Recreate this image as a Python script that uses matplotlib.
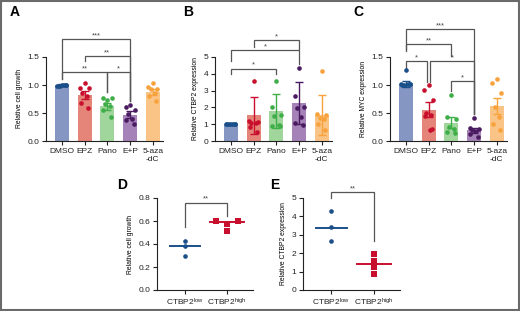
import matplotlib
matplotlib.use("Agg")
import matplotlib.pyplot as plt
from matplotlib.patches import Rectangle

plt.rcParams['font.family'] = ['Liberation Sans', 'DejaVu Sans']
plt.rcParams['mathtext.default'] = 'regular'

# ---- data ----
groups = ['DMSO', 'EPZ', 'Pano', 'E+P', '5-aza\n-dC']

# A - relative cell growth (mean +/- SEM)
growth_mean = [1.0, 0.82, 0.62, 0.47, 0.87]
growth_err = [0.01, 0.07, 0.06, 0.06, 0.05]
growth_pts = [
    [1.0, 0.99, 1.0, 0.98, 1.0, 0.99, 1.0],
    [1.04, 0.95, 0.95, 0.85, 0.80, 0.68, 0.59],
    [0.74, 0.77, 0.76, 0.66, 0.62, 0.55, 0.42],
    [0.64, 0.61, 0.55, 0.48, 0.40, 0.38, 0.30],
    [1.04, 0.97, 0.93, 0.92, 0.85, 0.80, 0.72],
]

# B - relative CTBP2 expression (mean +/- SD)
ctbp2_mean = [1.0, 1.52, 1.8, 2.25, 1.55]
ctbp2_err = [0.03, 1.1, 1.0, 1.25, 1.2]
ctbp2_pts = [
    [1.0, 1.0, 1.0, 1.0, 1.0, 1.0, 1.0],
    [3.57, 1.2, 1.15, 1.1, 1.05, 0.85, 0.55],
    [3.57, 2.05, 1.57, 1.5, 0.97, 0.92, 0.9],
    [4.32, 2.65, 2.0, 1.95, 1.4, 1.05, 0.95],
    [4.15, 1.63, 1.57, 1.37, 1.33, 1.03, 0.67],
]

# C - relative MYC expression (mean +/- SEM)
myc_mean = [1.02, 0.56, 0.33, 0.19, 0.62]
myc_err = [0.05, 0.13, 0.09, 0.04, 0.14]
myc_pts = [
    [1.27, 1.02, 1.01, 1.0, 1.02, 1.0, 1.01],
    [1.0, 0.91, 0.73, 0.5, 0.47, 0.45, 0.21, 0.2],
    [0.83, 0.42, 0.40, 0.25, 0.22, 0.16, 0.15],
    [0.41, 0.24, 0.22, 0.20, 0.18, 0.12, 0.08],
    [1.1, 1.03, 0.85, 0.6, 0.42, 0.3, 0.2],
]

# D / E - CTBP2 low vs high
split_labels = ['CTBP2$^{low}$', 'CTBP2$^{high}$']
d_low = [0.43, 0.385, 0.30]
d_high = [0.60, 0.60, 0.575, 0.51]
d_lines = [0.385, 0.59]
e_low = [4.3, 3.4, 2.65]
e_high = [1.98, 1.58, 1.36, 1.25, 0.87]
e_lines = [3.37, 1.42]

# significance brackets: (x1, x2, y, leg1 end, leg2 end, label)
brackets_a = [(0, 3, 1.82, 1.1, 0.72, '***'), (1, 3, 1.51, 1.42, 0.72, '**'),
              (0, 2, 1.23, 1.1, 0.87, '**'), (2, 3, 1.23, 0.87, 0.72, '*')]
brackets_b = [(1, 3, 6.0, 5.6, 5.5, '*'), (0, 3, 5.4, 4.75, 4.6, '*'),
              (0, 2, 4.3, 4.0, 4.0, '*')]
brackets_c = [(0, 3, 2.0, 1.65, 0.48, '***'), (0, 2, 1.73, 1.6, 1.52, '**'),
              (0, 0.93, 1.43, 1.3, 1.05, '*'), (1.07, 3, 1.43, 1.05, 0.48, '*'),
              (2, 3, 1.07, 0.9, 0.48, '*')]

fills = ['#8596c2', '#e5857a', '#a0d59b', '#a582b8', '#fbc487']
dots = ['#1b4f8a', '#c8102e', '#3fae49', '#4b1b61', '#f7a23c']
jitter = [0.0, -0.2, 0.2, -0.1, 0.1, -0.18, 0.16, 0.04]
W, H = 520, 311
TICK_FS = 6
LABEL_FS = 4.9


def place(fig, l, r, top, bottom):
    return fig.add_axes([l / W, 1 - bottom / H, (r - l) / W, (bottom - top) / H])


def style(ax):
    for s in ['top', 'right']:
        ax.spines[s].set_visible(False)
    for s in ['left', 'bottom']:
        ax.spines[s].set_linewidth(0.8)
        ax.spines[s].set_color('#222222')
    ax.tick_params(length=3, width=0.8, labelsize=TICK_FS, pad=2, colors='#222222')


def bracket(ax, x1, x2, y, e1, e2, label):
    ax.plot([x1, x1, x2, x2], [e1, y, y, e2], color='#555555', lw=0.9,
            clip_on=False, solid_joinstyle='miter')
    ax.text((x1 + x2) / 2, y, label, ha='center', va='bottom', fontsize=5.5,
            color='#444444')


def bar_panel(ax, means, errs, pts, ylim, ticks, ylabel, brackets):
    x = range(len(groups))
    ax.bar(x, means, width=0.62, color=fills, zorder=1)
    for i in x:
        ax.errorbar(i, means[i], yerr=errs[i], color=dots[i], capsize=3,
                    elinewidth=1, capthick=1, zorder=3)
        ax.scatter([i + jitter[k % len(jitter)] for k in range(len(pts[i]))],
                   pts[i], s=11, color=dots[i], zorder=4, linewidths=0)
    ax.set_xlim(-0.7, 4.45)
    ax.set_ylim(*ylim)
    ax.set_yticks(ticks)
    ax.set_xticks(list(x))
    ax.set_xticklabels(groups)
    ax.set_ylabel(ylabel, fontsize=LABEL_FS, labelpad=3)
    style(ax)
    for b in brackets:
        bracket(ax, *b)


def dot_panel(ax, low, high, lines, ylim, ticks, ylabel, br, fmt, spread):
    ax.scatter([0] * len(low), low, s=11, color=dots[0], zorder=3, linewidths=0)
    ax.scatter([1 + spread[k] for k in range(len(high))], high, s=16, marker='s',
               color=dots[1], zorder=3, linewidths=0)
    ax.plot([-0.36, 0.36], [lines[0]] * 2, color=dots[0], lw=1.4)
    ax.plot([0.6, 1.4], [lines[1]] * 2, color=dots[1], lw=1.4)
    ax.set_xlim(-0.67, 1.62)
    ax.set_ylim(*ylim)
    ax.set_yticks(ticks)
    ax.set_yticklabels([fmt.format(t) for t in ticks])
    ax.set_xticks([0, 1])
    ax.set_xticklabels(split_labels)
    ax.set_ylabel(ylabel, fontsize=LABEL_FS, labelpad=3)
    style(ax)
    bracket(ax, *br)


fig = plt.figure(figsize=(5.2, 3.11), dpi=100)

axA = place(fig, 46, 163, 57, 141)
bar_panel(axA, growth_mean, growth_err, growth_pts, (0, 1.5),
          [0.0, 0.5, 1.0, 1.5], 'Relative cell growth', brackets_a)
axA.set_yticklabels(['0.0', '0.5', '1.0', '1.5'])

axB = place(fig, 215, 332, 57, 141)
bar_panel(axB, ctbp2_mean, ctbp2_err, ctbp2_pts, (0, 5),
          [0, 1, 2, 3, 4, 5], 'Relative CTBP2 expression', brackets_b)

axC = place(fig, 390, 507, 57, 141)
bar_panel(axC, myc_mean, myc_err, myc_pts, (0, 1.5),
          [0.0, 0.5, 1.0, 1.5], 'Relative MYC expression', brackets_c)
axC.set_yticklabels(['0.0', '0.5', '1.0', '1.5'])

axD = place(fig, 157, 253, 198, 290)
dot_panel(axD, d_low, d_high, d_lines, (0, 0.8), [0.0, 0.2, 0.4, 0.6, 0.8],
          'Relative cell growth', (0, 1, 0.76, 0.55, 0.64, '**'), '{:.1f}',
          [-0.27, 0.27, 0.0, 0.0])

axE = place(fig, 303, 400, 198, 290)
dot_panel(axE, e_low, e_high, e_lines, (0, 5), [0, 1, 2, 3, 4, 5],
          'Relative CTBP2 expression', (0, 1, 5.3, 5.0, 2.65, '**'), '{:.0f}',
          [0.0] * 5)

for lab, px, py in [('A', 10, 12), ('B', 183, 12), ('C', 353, 12),
                    ('D', 117, 185), ('E', 270, 185)]:
    fig.text(px / W, 1 - py / H, lab, fontsize=10, fontweight='bold',
             ha='left', va='center')

fig.patches.append(Rectangle((0.002, 0.003), 0.996, 0.994, transform=fig.transFigure,
                             fill=False, edgecolor='#6a6a6a', lw=1.5))

fig.savefig('out.png', dpi=100)
